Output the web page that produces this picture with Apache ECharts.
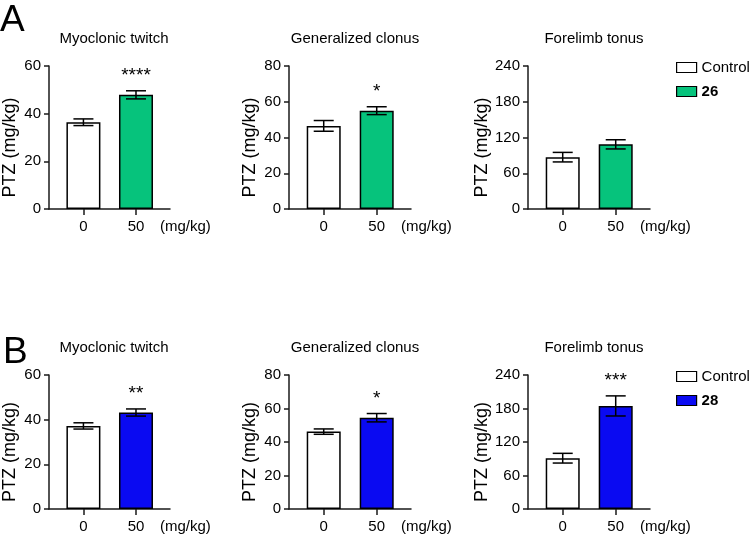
<!DOCTYPE html>
<html>
<head>
<meta charset="utf-8">
<script src="https://cdn.jsdelivr.net/npm/echarts@6/dist/echarts.min.js"></script>
<style>html,body{margin:0;padding:0;background:#fff}#c{width:750px;height:545px}</style>
</head>
<body>
<div id="c"></div>
<script>
// ---- data ----
const categories = ['0', '50'];
const panelTitles = ['Myoclonic twitch', 'Generalized clonus', 'Forelimb tonus'];
const yMaxes = [60, 80, 240];
const yIntervals = [20, 20, 60];
const doseUnit = '(mg/kg)';
const yName = 'PTZ (mg/kg)';

const controlA = [36.4, 46.5, 87.0];
const controlAErr = [1.4, 3.0, 8.0];
const cmp26 = [47.9, 55.0, 108.5];
const cmp26Err = [1.7, 2.2, 7.7];
const sig26 = ['****', '*', ''];

const controlB = [37.2, 46.2, 91.0];
const controlBErr = [1.4, 1.6, 8.7];
const cmp28 = [43.2, 54.5, 184.6];
const cmp28Err = [1.6, 2.5, 18.0];
const sig28 = ['**', '*', '***'];

const rows = [
  { letter: 'A', name: '26', color: '#06c37c', ctrl: controlA, ctrlErr: controlAErr, cmp: cmp26, cmpErr: cmp26Err, sig: sig26, top: 66 },
  { letter: 'B', name: '28', color: '#0a0af2', ctrl: controlB, ctrlErr: controlBErr, cmp: cmp28, cmpErr: cmp28Err, sig: sig28, top: 375 }
];

// ---- layout / style ----
const FONT = 'Liberation Sans, Arial, sans-serif';
const lefts = [48, 289, 528];
const gridW = 122, gridH = 143;
const axisColor = '#1a1a1a';
// category positions on a value axis: index 0 and 1, axis padded on both sides
const xMin = -0.655, xMax = 1.647;
const catIdx = categories.map((c, i) => i);

const grid = [], xAxis = [], yAxis = [], series = [], title = [], legend = [], graphic = [];
let gi = 0;
rows.forEach((row, r) => {
  graphic.push({ type: 'text', left: r === 0 ? 0 : 3, top: r === 0 ? 2 : 334,
    style: { text: row.letter, font: '37px ' + FONT, fill: '#000' } });
  legend.push({
    left: 671, top: row.top - 11, orient: 'vertical', icon: 'rect',
    itemWidth: 20, itemHeight: 10, itemGap: 9, selectedMode: false,
    textStyle: { fontFamily: FONT, fontSize: 15, color: '#000' },
    data: [
      { name: 'Control', itemStyle: { color: '#fff', borderColor: '#000', borderWidth: 1.2 } },
      { name: row.name, itemStyle: { color: row.color, borderColor: '#000', borderWidth: 1.2 }, textStyle: { fontWeight: 'bold' } }
    ]
  });
  for (let p = 0; p < 3; p++) {
    grid.push({ left: lefts[p], top: row.top, width: gridW, height: gridH });
    title.push({ text: panelTitles[p], left: lefts[p] + gridW / 2, top: row.top - 40, textAlign: 'center',
      textStyle: { fontFamily: FONT, fontSize: 15, fontWeight: 'normal', color: '#000' } });
    xAxis.push({
      type: 'value', gridIndex: gi, min: xMin, max: xMax,
      splitLine: { show: false },
      axisLine: { onZero: false, lineStyle: { color: axisColor, width: 1.5 } },
      axisTick: { show: true, customValues: catIdx, length: 6, lineStyle: { color: axisColor, width: 1.5 } },
      axisLabel: { customValues: catIdx, formatter: v => categories[Math.round(v)], margin: 10, fontFamily: FONT, fontSize: 15, color: '#000' },
      name: doseUnit, nameLocation: 'end', nameGap: -10,
      nameTextStyle: { fontFamily: FONT, fontSize: 15, color: '#000', verticalAlign: 'top', align: 'left', lineHeight: 36 }
    });
    yAxis.push({
      type: 'value', gridIndex: gi, min: 0, max: yMaxes[p], interval: yIntervals[p],
      splitLine: { show: false },
      axisLine: { show: true, onZero: false, lineStyle: { color: axisColor, width: 1.5 } },
      axisTick: { show: true, length: 5, lineStyle: { color: axisColor, width: 1.5 } },
      axisLabel: { margin: 8, fontFamily: FONT, fontSize: 15, color: '#000' },
      name: yName, nameLocation: 'middle', nameGap: 30,
      nameTextStyle: { fontFamily: FONT, fontSize: 18, color: '#000', padding: [0, 20, 0, 0] }
    });
    series.push({
      type: 'bar', name: 'Control', xAxisIndex: gi, yAxisIndex: gi, barWidth: 34, barGap: '-100%',
      data: [[catIdx[0], row.ctrl[p]]],
      itemStyle: { color: '#fff', borderColor: '#000', borderWidth: 1.5 }, silent: true
    });
    series.push({
      type: 'bar', name: row.name, xAxisIndex: gi, yAxisIndex: gi, barWidth: 34, barGap: '-100%',
      data: [[catIdx[1], row.cmp[p]]],
      itemStyle: { color: row.color, borderColor: '#000', borderWidth: 1.5 }, silent: true
    });
    const sigs = ['', row.sig[p]];
    series.push({
      type: 'custom', xAxisIndex: gi, yAxisIndex: gi, silent: true, z: 10,
      data: [[catIdx[0], row.ctrl[p], row.ctrlErr[p]], [catIdx[1], row.cmp[p], row.cmpErr[p]]],
      encode: { x: 0, y: 1 },
      renderItem: (params, api) => {
        const x = api.value(0), m = api.value(1), e = api.value(2);
        const hi = api.coord([x, m + e]), lo = api.coord([x, m - e]);
        const cap = 10;
        const st = { stroke: '#000', lineWidth: 1.5 };
        const children = [
          { type: 'line', shape: { x1: hi[0], y1: hi[1], x2: lo[0], y2: lo[1] }, style: st },
          { type: 'line', shape: { x1: hi[0] - cap, y1: hi[1], x2: hi[0] + cap, y2: hi[1] }, style: st },
          { type: 'line', shape: { x1: lo[0] - cap, y1: lo[1], x2: lo[0] + cap, y2: lo[1] }, style: st }
        ];
        const s = sigs[params.dataIndex];
        if (s) {
          children.push({ type: 'text', style: { text: s, x: hi[0], y: hi[1] - 15, align: 'center', verticalAlign: 'middle',
            font: '19px ' + FONT, fill: '#000' } });
        }
        return { type: 'group', children };
      }
    });
    gi++;
  }
});

const chart = echarts.init(document.getElementById('c'), null, { renderer: 'canvas' });
chart.setOption({ animation: false, backgroundColor: '#fff', grid, xAxis, yAxis, series, title, legend, graphic });
</script>
</body>
</html>
